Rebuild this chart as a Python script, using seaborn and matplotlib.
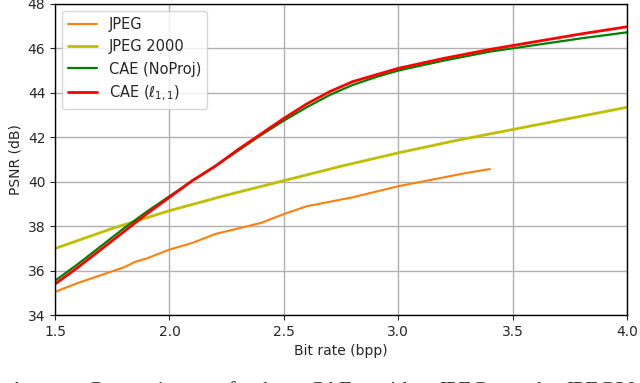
import numpy as np
import matplotlib
matplotlib.use("Agg")
import matplotlib.pyplot as plt
import seaborn as sns

# bit rate (bpp) / PSNR (dB)
jpeg_x = [1.5, 1.6, 1.7, 1.8, 1.85, 1.9, 2.0, 2.1, 2.2, 2.3, 2.4, 2.5,
          2.6, 2.7, 2.8, 2.9, 3.0, 3.1, 3.2, 3.3, 3.4]
jpeg_y = [35.05, 35.45, 35.8, 36.15, 36.4, 36.55, 36.95, 37.25, 37.65, 37.9, 38.15, 38.55,
          38.9, 39.1, 39.3, 39.55, 39.8, 40.0, 40.2, 40.4, 40.57]

j2k_x = [1.5, 1.75, 2.0, 2.25, 2.5, 2.75, 3.0, 3.25, 3.5, 3.75, 4.0]
j2k_y = [37.0, 37.9, 38.7, 39.4, 40.05, 40.7, 41.3, 41.85, 42.35, 42.85, 43.35]

cae_x = [1.5, 1.6, 1.7, 1.8, 1.9, 2.0, 2.1, 2.2, 2.3, 2.4, 2.5, 2.6, 2.7, 2.8,
         2.9, 3.0, 3.2, 3.4, 3.6, 3.8, 4.0]
noproj_y = [35.55, 36.3, 37.1, 37.9, 38.65, 39.35, 40.05, 40.7, 41.4, 42.1, 42.75, 43.35,
            43.9, 44.35, 44.7, 45.0, 45.45, 45.85, 46.15, 46.45, 46.72]
l11_y = [35.4, 36.15, 36.95, 37.75, 38.55, 39.3, 40.05, 40.7, 41.45, 42.15, 42.85, 43.5,
         44.05, 44.5, 44.8, 45.1, 45.55, 45.95, 46.3, 46.65, 46.97]

caption_words = ["Comparison", "of", "the", "CAE", "with", "JPEG", "and", "JPEG2000"]

sns.set_style("whitegrid", {"axes.edgecolor": "black", "grid.color": "#b0b0b0",
                            "xtick.bottom": True, "ytick.left": True})
plt.rcParams['font.family'] = ['DejaVu Sans']

fig, ax = plt.subplots(figsize=(6.4, 3.83), dpi=100)
sns.lineplot(x=jpeg_x, y=jpeg_y, ax=ax, color="#ff7f0e", lw=1.5, label="JPEG")
sns.lineplot(x=j2k_x, y=j2k_y, ax=ax, color="#bfbf00", lw=2, label="JPEG 2000")
sns.lineplot(x=cae_x, y=noproj_y, ax=ax, color="#008000", lw=1.6, label="CAE (NoProj)")
sns.lineplot(x=cae_x, y=l11_y, ax=ax, color="#ff0000", lw=2, label=r"CAE ($\ell_{1,1}$)")

ax.set_xlim(1.5, 4.0)
ax.set_ylim(34, 48)
ax.set_xticks(np.arange(1.5, 4.01, 0.5))
ax.set_yticks(np.arange(34, 48.1, 2))
ax.set_xlabel("Bit rate (bpp)")
ax.set_ylabel("PSNR (dB)")
ax.grid(True, lw=1)
for s in ax.spines.values():
    s.set_linewidth(1)
ax.legend(loc="upper left", frameon=True, fontsize=10.5)

fig.subplots_adjust(left=0.086, right=0.98, top=0.99, bottom=0.177)

# caption of the paper figure (justified line), only its top shows in the crop
cap_y = 1 - 382 / 383
fig.text(0.0, cap_y, "Fig. 10:", family="Liberation Serif", weight="bold",
         fontsize=16, va="top", ha="left")
renderer = fig.canvas.get_renderer()
texts = [fig.text(0, cap_y, w, family="Liberation Serif", fontsize=16, va="top", ha="left")
         for w in caption_words]
widths = [t.get_window_extent(renderer).width for t in texts]
x0, x1 = 86, 660
gap = (x1 - x0 - sum(widths)) / (len(texts) - 1)
x = x0
for t, w in zip(texts, widths):
    t.set_x(x / 640)
    x += w + gap

fig.savefig("out.png", dpi=100)
